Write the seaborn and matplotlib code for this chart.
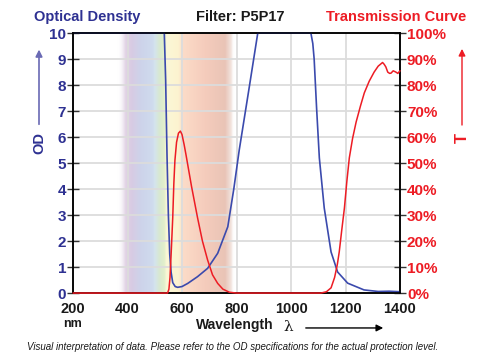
import numpy as np
import pandas as pd
import matplotlib
matplotlib.use("Agg")
import matplotlib.pyplot as plt
from matplotlib.colors import LinearSegmentedColormap, to_rgba
import seaborn as sns

# optical density curve (nm, OD)
od_nm = [200, 530, 535, 540, 545, 550, 555, 560, 566, 575, 584, 600, 621, 657, 694,
         731, 768, 790, 810, 845, 878, 1073, 1080, 1085, 1094, 1104, 1122, 1147,
         1171, 1208, 1268, 1320, 1360, 1400]
od_val = [10, 10, 10, 8.2, 5.3, 3.0, 1.5, 0.8, 0.4, 0.25, 0.22, 0.25, 0.37, 0.63, 0.95,
          1.53, 2.55, 4.0, 5.5, 7.8, 10, 10, 9.6, 9.0, 7.1, 5.2, 3.27, 1.58,
          0.81, 0.38, 0.12, 0.06, 0.07, 0.05]

# transmission curve (nm, %)
t_nm = [200, 547, 552, 556, 561, 566, 570, 574, 580, 587, 594, 600, 608, 615, 635,
        657, 675, 694, 712, 731, 750, 774, 800, 1110, 1130, 1147, 1160, 1170, 1177,
        1186, 1196, 1205, 1214, 1226, 1239, 1255, 1269, 1287, 1305, 1320, 1336,
        1342, 1348, 1355, 1362, 1367, 1375, 1385, 1392, 1400]
t_val = [0, 0, 1.5, 6, 17, 29, 42, 51, 58, 61.5, 62.3, 61, 57, 53, 41,
         29, 20, 12.7, 7, 3.7, 1.5, 0.3, 0, 0, 0.5, 2, 6, 11, 15.8,
         24, 32.7, 43, 52, 59.5, 65.8, 72, 77, 81.5, 85, 87.3, 88.7,
         88, 87, 85, 84.5, 84.6, 85.5, 85, 84.5, 85.5]

x_ticks = [200, 400, 600, 800, 1000, 1200, 1400]
od_ticks = list(range(0, 11))
t_ticks = list(range(0, 101, 10))

BLUE_TXT = "#2e3192"
BLUE_LINE = "#3b4aad"
RED = "#ed1c24"

sns.set_style("white")
plt.rcParams["font.family"] = ["Liberation Sans", "DejaVu Sans"]
plt.rcParams["font.weight"] = "bold"

fig = plt.figure(figsize=(5, 3.6), dpi=100)
ax = fig.add_axes([0.146, 0.186, 0.654, 0.722])

# visible spectrum band
stops = [(0.00, "#ffffff", 0.0), (0.07, "#e2d3e6", 1.0), (0.12, "#d8cbe3", 1.0),
         (0.20, "#cdd3ea", 1.0), (0.30, "#cfdbee", 1.0), (0.32, "#d4e4ee", 1.0),
         (0.36, "#d8e9d0", 1.0), (0.40, "#e2efcb", 1.0), (0.42, "#fbf7d6", 1.0),
         (0.52, "#fdf3d0", 1.0), (0.56, "#fcdcc8", 1.0), (0.75, "#f5ccbc", 1.0),
         (0.92, "#e9c4b6", 1.0), (0.97, "#ead0c6", 0.6), (1.00, "#ffffff", 0.0)]
cmap = LinearSegmentedColormap.from_list(
    "spec", [(p, to_rgba(c, a)) for p, c, a in stops])
grad = np.linspace(0, 1, 400).reshape(1, -1)
ax.imshow(grad, cmap=cmap, extent=[362, 795, 0, 10], aspect="auto",
          zorder=0.2, interpolation="bilinear")

od_df = pd.DataFrame({"nm": od_nm, "od": od_val})
t_df = pd.DataFrame({"nm": t_nm, "t": t_val})

sns.lineplot(data=od_df, x="nm", y="od", ax=ax, color=BLUE_LINE, lw=1.2,
             zorder=3, clip_on=False)
ax.set_xlim(200, 1400)
ax.set_ylim(0, 10)
ax.set_axisbelow(True)
ax.grid(True, color="#dcdcdc", lw=1.3)
ax.set_xticks(x_ticks)
ax.set_xticks(range(300, 1400, 200), minor=True)
ax.set_yticks(od_ticks)
ax.set_xlabel("")
ax.set_ylabel("")
ax.tick_params(axis="y", direction="inout", length=8, width=1, color="#333333",
               labelcolor=BLUE_TXT, labelsize=11, pad=1)
ax.tick_params(axis="x", which="major", direction="inout", length=8, width=1,
               color="#333333", labelcolor="#1a1a1a", labelsize=10.5, pad=2.5)
ax.tick_params(axis="x", which="minor", direction="in", length=4, width=1,
               color="#333333")
for s in ax.spines.values():
    s.set_color("black")
    s.set_linewidth(1.1)

ax2 = ax.twinx()
sns.lineplot(data=t_df, x="nm", y="t", ax=ax2, color=RED, lw=1.1, zorder=3,
             clip_on=False)
ax2.set_ylim(0, 100)
ax2.set_yticks(t_ticks)
ax2.set_yticklabels([f"{v}%" for v in t_ticks])
ax2.set_ylabel("")
ax2.tick_params(axis="y", direction="inout", length=8, width=1, color="#333333",
                labelcolor=RED, labelsize=11, pad=1)
for s in ax2.spines.values():
    s.set_color("black")
    s.set_linewidth(1.1)

# headers
fig.text(0.174, 0.953, "Optical Density", color=BLUE_TXT, fontsize=10.5,
         fontweight="bold", ha="center", va="center")
fig.text(0.48, 0.953, "Filter: P5P17", color="#1a1a1a", fontsize=10.5,
         fontweight="bold", ha="center", va="center")
fig.text(0.792, 0.953, "Transmission Curve", color=RED, fontsize=10.5,
         fontweight="bold", ha="center", va="center")

# axis names with arrows
fig.text(0.078, 0.603, "OD", color=BLUE_TXT, fontsize=10.5, fontweight="bold",
         rotation=90, ha="center", va="center")
ax.annotate("", xy=(0.078, 0.87), xytext=(0.078, 0.647), xycoords="figure fraction",
            arrowprops=dict(arrowstyle="-|>", color="#6a6ab4", lw=1.2,
                            mutation_scale=10))
fig.text(0.924, 0.617, "T", color=RED, fontsize=12, fontweight="bold",
         rotation=90, ha="center", va="center")
ax.annotate("", xy=(0.924, 0.872), xytext=(0.924, 0.645), xycoords="figure fraction",
            arrowprops=dict(arrowstyle="-|>", color=RED, lw=1.0,
                            mutation_scale=10))

fig.text(0.146, 0.1, "nm", color="#1a1a1a", fontsize=9, fontweight="bold",
         ha="center", va="center")
fig.text(0.47, 0.097, "Wavelength", color="#1a1a1a", fontsize=10,
         fontweight="bold", ha="center", va="center")
fig.text(0.577, 0.092, "λ", color="#1a1a1a", fontsize=11, fontweight="normal",
         family=["DejaVu Serif"], ha="center", va="center")
ax.annotate("", xy=(0.772, 0.089), xytext=(0.606, 0.089), xycoords="figure fraction",
            arrowprops=dict(arrowstyle="-|>", color="black", lw=1.0,
                            mutation_scale=10))

fig.text(0.054, 0.036,
         "Visual interpretation of data. Please refer to the OD specifications "
         "for the actual protection level.",
         color="#1a1a1a", fontsize=7.05, fontstyle="italic", fontweight="normal",
         ha="left", va="center")

fig.savefig("out.png", dpi=100)
